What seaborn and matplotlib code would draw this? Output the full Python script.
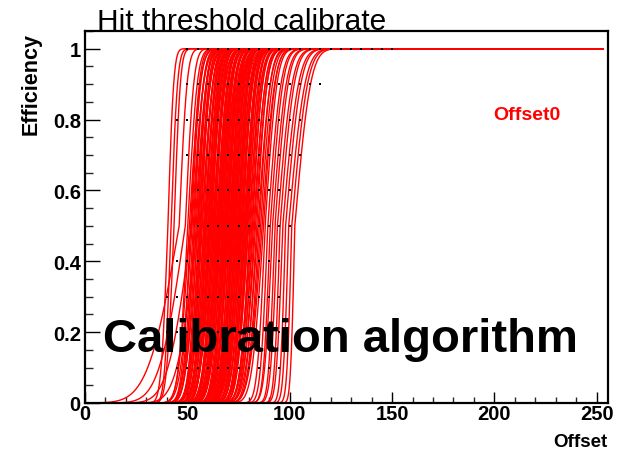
import math
import numpy as np
import pandas as pd
import matplotlib
matplotlib.use("Agg")
import matplotlib.pyplot as plt
from matplotlib.ticker import MultipleLocator, FixedLocator
import seaborn as sns

# ---------------- data ----------------
# S-curve parameters: 50% point (offset) and widths below / above it
left_mid = [40.5, 42.0, 43.5, 46.0, 49.0, 52.0, 55.0]
left_sig_lo = [2.6, 2.4, 2.8, 12.0, 10.0, 9.0, 8.0]
left_sig_hi = [2.2, 2.5, 2.4, 3.0, 3.2, 3.5, 3.6]

core_mid = [
    50.2, 51.0, 51.6, 52.3, 52.9, 53.4, 53.8, 54.3, 54.9, 55.2,
    55.7, 56.1, 56.6, 57.0, 57.3, 57.9, 58.2, 58.6, 59.1, 59.4,
    59.8, 60.2, 60.5, 60.9, 61.3, 61.6, 62.0, 62.3, 62.7, 63.0,
    63.4, 63.7, 64.1, 64.4, 64.8, 65.1, 65.5, 65.8, 66.2, 66.5,
    66.9, 67.2, 67.6, 67.9, 68.3, 68.6, 69.0, 69.3, 69.7, 70.0,
    70.4, 70.7, 71.1, 71.4, 71.8, 72.1, 72.5, 72.8, 73.2, 73.6,
    73.9, 74.3, 74.6, 75.0, 75.4, 75.7, 76.1, 76.5, 76.8, 77.2,
    77.6, 78.0, 78.4, 78.8, 79.2, 79.6, 80.0, 80.5, 80.9, 81.4,
    81.8, 82.3, 82.8, 83.3, 83.9, 84.5, 85.1, 85.8, 86.5, 87.2,
    56.4, 58.8, 60.7, 62.9, 64.6, 66.0, 67.4, 68.9, 70.9, 72.3,
    73.4, 74.9, 76.3, 77.9, 79.0, 61.1, 65.3, 69.5, 71.6, 75.2,
]
core_sig = [
    3.6, 4.1, 3.3, 4.4, 3.8, 3.5, 4.2, 3.9, 3.4, 4.6,
    3.7, 4.0, 3.2, 4.3, 3.9, 3.6, 4.5, 3.8, 3.3, 4.1,
    4.0, 3.5, 4.4, 3.7, 3.9, 4.2, 3.4, 4.6, 3.8, 3.6,
    4.1, 3.3, 4.3, 3.9, 3.7, 4.5, 3.5, 4.0, 3.8, 4.2,
    3.6, 4.4, 3.4, 3.9, 4.1, 3.7, 4.3, 3.5, 4.0, 3.8,
    4.6, 3.6, 4.2, 3.3, 3.9, 4.4, 3.7, 4.1, 3.5, 4.0,
    3.8, 4.3, 3.6, 4.5, 3.4, 3.9, 4.2, 3.7, 4.0, 3.5,
    4.4, 3.8, 4.1, 3.6, 4.3, 3.9, 4.6, 3.7, 4.0, 4.2,
    3.8, 4.5, 4.1, 4.4, 3.9, 4.7, 4.2, 4.5, 4.8, 4.4,
    3.7, 4.0, 3.6, 4.2, 3.9, 4.1, 3.5, 4.3, 3.8, 4.0,
    4.1, 3.6, 4.4, 3.9, 3.7, 4.2, 3.8, 4.0, 3.5, 4.3,
]

right_mid = [88.0, 89.3, 90.5, 91.6, 92.8, 94.0, 95.3, 96.6, 98.0, 99.5, 101.0, 102.5]
right_sig_lo = [3.0, 2.8, 2.6, 3.0, 2.4, 2.6, 2.2, 2.4, 2.0, 2.0, 1.8, 1.6]
right_sig_hi = [4.5, 5.0, 4.8, 5.2, 5.0, 5.6, 5.4, 6.0, 5.8, 6.2, 6.0, 6.0]

# black data markers of the efficiency grid: level, first and last offset (step 5)
dot_level = [1.0, 0.9, 0.8, 0.7, 0.6, 0.5, 0.4, 0.3, 0.2, 0.1]
dot_first = [50, 50, 45, 50, 55, 55, 45, 40, 40, 45]
dot_last = [150, 115, 105, 105, 100, 100, 95, 95, 95, 95]

x_ticks = [0, 50, 100, 150, 200, 250]
y_ticks = [0, 0.2, 0.4, 0.6, 0.8, 1.0]
y_tick_labels = ["0", "0.2", "0.4", "0.6", "0.8", "1"]

# ---------------- build tables ----------------
mids = left_mid + core_mid + right_mid
sig_lo = left_sig_lo + core_sig + right_sig_lo
sig_hi = left_sig_hi + core_sig + right_sig_hi

offs = np.arange(0.0, 253.01, 0.25)
erf = np.frompyfunc(math.erf, 1, 1)
frames = []
for i, (m, sl, sh) in enumerate(zip(mids, sig_lo, sig_hi)):
    s = np.where(offs < m, sl, sh)
    eff = 0.5 * (1.0 + erf((offs - m) / (s * math.sqrt(2.0))).astype(float))
    frames.append(pd.DataFrame({"Offset": offs, "Efficiency": eff, "ch": i}))
curves = pd.concat(frames, ignore_index=True)

dx, dy = [], []
for lv, a, b in zip(dot_level, dot_first, dot_last):
    for xv in range(a, b + 1, 5):
        dx.append(xv)
        dy.append(lv)
dots = pd.DataFrame({"Offset": dx, "Efficiency": dy})

# ---------------- draw ----------------
sns.set_theme(style="white")
plt.rcParams["font.family"] = ["Liberation Sans", "DejaVu Sans"]

fig = plt.figure(figsize=(6.24, 4.56), dpi=100)
ax = fig.add_axes([85 / 624, 1 - 404 / 456, (608 - 85) / 624, (404 - 32) / 456])

sns.lineplot(data=curves, x="Offset", y="Efficiency", units="ch", estimator=None,
             color="#ff0000", linewidth=1.0, sort=False, ax=ax, legend=False)
sns.scatterplot(data=dots, x="Offset", y="Efficiency", marker="s", s=3.2,
                color="black", linewidth=0, ax=ax, zorder=5, legend=False)

ax.set_xlim(0, 255.5)
ax.set_ylim(0, 1.05)
ax.set_xlabel("")
ax.set_ylabel("")

ax.xaxis.set_major_locator(FixedLocator(x_ticks))
ax.xaxis.set_minor_locator(MultipleLocator(10))
ax.yaxis.set_major_locator(FixedLocator(y_ticks))
ax.yaxis.set_minor_locator(MultipleLocator(0.05))
ax.set_xticklabels([str(v) for v in x_ticks])
ax.set_yticklabels(y_tick_labels)

for side in ["left", "bottom", "top", "right"]:
    ax.spines[side].set_visible(True)
    ax.spines[side].set_color("black")
    ax.spines[side].set_linewidth(1.6)

ax.tick_params(axis="x", which="major", direction="in", length=8, width=1.0,
               bottom=True, top=False, labelsize=14.5, pad=1, colors="black")
ax.tick_params(axis="x", which="minor", direction="in", length=4, width=1.0,
               bottom=True, top=False)
ax.tick_params(axis="y", which="major", direction="in", length=11, width=1.0,
               left=True, right=False, labelsize=14.5, pad=3, colors="black")
ax.tick_params(axis="y", which="minor", direction="in", length=5.5, width=1.0,
               left=True, right=False)
for lab in ax.get_xticklabels() + ax.get_yticklabels():
    lab.set_fontweight("bold")

fig.text(97 / 624, 1 - 30 / 456, "Hit threshold calibrate", fontsize=21.5,
         ha="left", va="baseline", color="black")
fig.text(31 / 624, 1 - 33 / 456, "Efficiency", rotation=90, ha="center", va="top",
         fontsize=15.5, fontweight="bold", color="black")
fig.text(608 / 624, 1 - 443 / 456, "Offset", ha="right", va="center",
         fontsize=13.5, fontweight="bold", color="black")
fig.text(527 / 624, 1 - 116 / 456, "Offset0", ha="center", va="center",
         fontsize=14, fontweight="bold", color="#ff0000")
fig.text(103 / 624, 1 - 352 / 456, "Calibration algorithm", ha="left", va="baseline",
         fontsize=34, fontweight="bold", color="black", zorder=10)

fig.savefig("out.png", dpi=100)
